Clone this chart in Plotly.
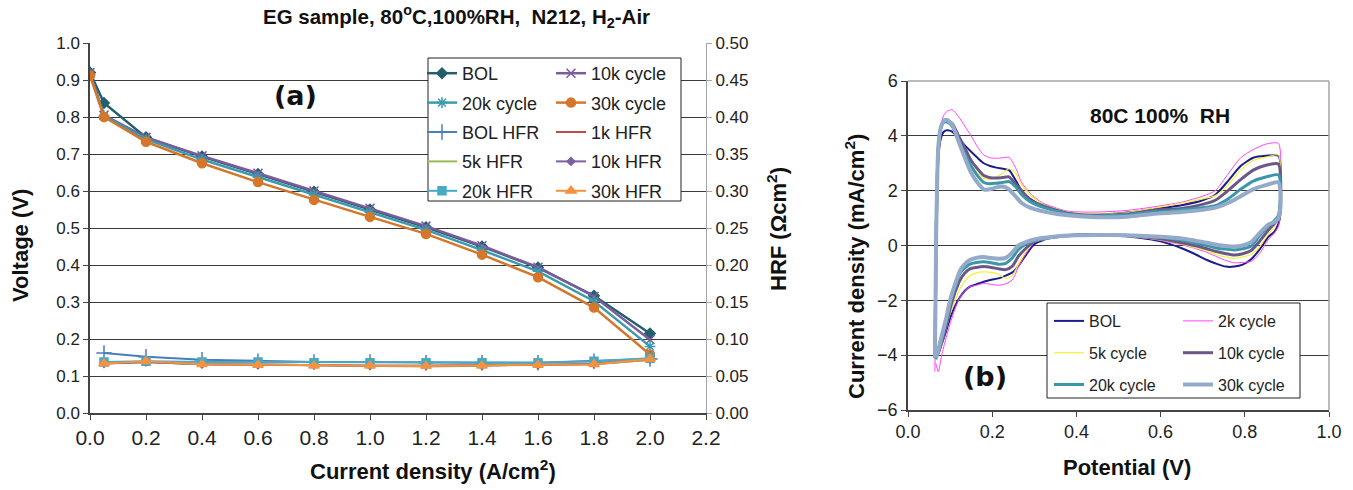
import plotly.graph_objects as go

W, H = 1353, 490
FONT = "Liberation Sans, Arial, sans-serif"

# ---------------- (a) polarization data ----------------
x_pol = [0, 0.05, 0.2, 0.4, 0.6, 0.8, 1.0, 1.2, 1.4, 1.6, 1.8, 2.0]
v_bol = [0.920, 0.838, 0.745, 0.693, 0.646, 0.598, 0.550, 0.502, 0.450, 0.393, 0.317, 0.215]
v_10k = [0.920, 0.805, 0.745, 0.695, 0.648, 0.600, 0.553, 0.505, 0.452, 0.394, 0.315, 0.198]
v_20k = [0.915, 0.803, 0.740, 0.685, 0.638, 0.590, 0.542, 0.495, 0.440, 0.383, 0.302, 0.180]
v_30k = [0.912, 0.800, 0.733, 0.675, 0.624, 0.576, 0.530, 0.484, 0.428, 0.367, 0.285, 0.158]

x_hfr = [0.05, 0.2, 0.4, 0.6, 0.8, 1.0, 1.2, 1.4, 1.6, 1.8, 2.0]
hfr_bol = [0.081, 0.076, 0.072, 0.070, 0.069, 0.069, 0.068, 0.068, 0.068, 0.070, 0.073]
hfr_1k = [0.067, 0.069, 0.066, 0.065, 0.064, 0.064, 0.064, 0.064, 0.065, 0.066, 0.072]
hfr_5k = [0.068, 0.069, 0.066, 0.065, 0.064, 0.064, 0.063, 0.064, 0.065, 0.066, 0.072]
hfr_10k = [0.067, 0.069, 0.066, 0.065, 0.065, 0.064, 0.064, 0.064, 0.065, 0.067, 0.073]
hfr_20k = [0.069, 0.070, 0.069, 0.069, 0.068, 0.068, 0.068, 0.068, 0.068, 0.070, 0.074]
hfr_30k = [0.067, 0.070, 0.066, 0.065, 0.064, 0.064, 0.0635, 0.064, 0.065, 0.066, 0.073]

# ---------------- (b) CV data ----------------
cv_up_v = [0.064, 0.067, 0.072, 0.078, 0.085, 0.093, 0.105, 0.120, 0.135, 0.150, 0.165, 0.180,
           0.195, 0.210, 0.225, 0.240, 0.255, 0.270, 0.290, 0.320, 0.38, 0.45, 0.52, 0.58,
           0.65, 0.70, 0.73, 0.76, 0.79, 0.82, 0.85, 0.88]
cv_dn_v = [0.885, 0.880, 0.870, 0.855, 0.835, 0.815, 0.795, 0.775, 0.755, 0.735, 0.71, 0.68,
           0.65, 0.60, 0.55, 0.48, 0.40, 0.345, 0.30, 0.28, 0.262, 0.248, 0.232, 0.215,
           0.198, 0.180, 0.162, 0.147, 0.135, 0.124, 0.112, 0.100, 0.090, 0.080, 0.072, 0.066]

cv_bol_up = [-4.0, 0.3, 3.2, 3.9, 4.15, 4.2, 4.15, 3.9, 3.65, 3.42, 3.2, 3.0, 2.9, 2.84, 2.8, 2.75,
             2.4, 2.0, 1.7, 1.45, 1.18, 1.12, 1.2, 1.32, 1.47, 1.65, 1.85, 2.35, 2.9, 3.2, 3.27, 3.27]
cv_bol_dn = [1.2, 0.8, 0.5, 0.3, -0.15, -0.5, -0.7, -0.77, -0.77, -0.68, -0.53, -0.3, -0.1, 0.15,
             0.28, 0.38, 0.4, 0.32, 0.05, -0.35, -0.75, -0.98, -1.1, -1.2, -1.25, -1.32, -1.42,
             -1.5, -1.65, -1.87, -2.2, -2.65, -3.15, -3.6, -3.95, -4.05]
cv_2k_up = [-4.6, 0.5, 3.6, 4.4, 4.75, 4.9, 4.95, 4.7, 4.35, 4.0, 3.6, 3.3, 3.2, 3.18, 3.2, 3.22,
            2.85, 2.3, 1.9, 1.55, 1.25, 1.22, 1.28, 1.4, 1.58, 1.8, 2.0, 2.6, 3.2, 3.5, 3.7, 3.72]
cv_2k_dn = [1.5, 0.7, 0.45, 0.2, -0.3, -0.58, -0.62, -0.63, -0.55, -0.42, -0.25, -0.1, 0.03, 0.18,
            0.3, 0.37, 0.38, 0.32, 0.1, -0.3, -0.8, -1.25, -1.4, -1.45, -1.42, -1.38, -1.45,
            -1.5, -1.65, -1.87, -2.3, -2.85, -3.4, -4.0, -4.6, -4.3]
cv_5k_up = [-3.9, 0.5, 3.5, 4.3, 4.52, 4.55, 4.4, 3.9, 3.4, 2.95, 2.65, 2.45, 2.42, 2.5, 2.65, 2.8,
            2.65, 2.2, 1.85, 1.5, 1.22, 1.15, 1.2, 1.35, 1.55, 1.7, 1.82, 2.2, 2.75, 3.1, 3.22, 3.3]
cv_5k_dn = [2.0, 1.0, 0.7, 0.4, -0.05, -0.33, -0.42, -0.47, -0.42, -0.35, -0.2, -0.07, 0.05, 0.2,
            0.3, 0.36, 0.36, 0.28, 0.12, -0.2, -0.7, -1.1, -1.2, -1.05, -0.98, -0.96, -1.0,
            -1.1, -1.3, -1.55, -2.0, -2.5, -3.05, -3.6, -3.95, -4.0]
cv_10k_up = [-4.0, 0.5, 3.5, 4.3, 4.52, 4.55, 4.45, 4.0, 3.55, 3.1, 2.8, 2.55, 2.47, 2.46, 2.48, 2.5,
             2.25, 2.0, 1.65, 1.45, 1.18, 1.1, 1.15, 1.28, 1.35, 1.5, 1.65, 2.0, 2.4, 2.75, 2.93, 2.97]
cv_10k_dn = [2.0, 1.0, 0.8, 0.55, 0.15, -0.18, -0.3, -0.35, -0.3, -0.23, -0.12, 0.0, 0.1, 0.25,
             0.33, 0.37, 0.37, 0.3, 0.15, -0.1, -0.4, -0.75, -0.88, -0.85, -0.8, -0.77, -0.8,
             -0.85, -1.0, -1.25, -1.7, -2.3, -3.0, -3.5, -3.9, -4.1]
cv_20k_up = [-4.1, 0.5, 3.6, 4.3, 4.5, 4.5, 4.35, 3.85, 3.35, 2.9, 2.55, 2.3, 2.25, 2.27, 2.3, 2.33,
             2.15, 1.85, 1.6, 1.4, 1.15, 1.08, 1.12, 1.22, 1.3, 1.38, 1.45, 1.7, 2.05, 2.35, 2.5, 2.57]
cv_20k_dn = [1.8, 1.1, 0.9, 0.7, 0.35, -0.03, -0.12, -0.16, -0.13, -0.1, 0.0, 0.1, 0.2, 0.3,
             0.35, 0.38, 0.37, 0.3, 0.18, 0.05, -0.15, -0.45, -0.65, -0.68, -0.63, -0.59, -0.62,
             -0.68, -0.82, -1.0, -1.5, -2.1, -2.8, -3.4, -3.85, -4.15]
cv_30k_up = [-4.1, 0.5, 3.6, 4.3, 4.55, 4.58, 4.4, 3.8, 3.2, 2.65, 2.3, 2.05, 2.05, 2.12, 2.15, 2.05,
             1.8, 1.55, 1.38, 1.25, 1.1, 1.03, 1.05, 1.15, 1.22, 1.3, 1.38, 1.55, 1.8, 2.05, 2.2, 2.3]
cv_30k_dn = [1.5, 1.0, 0.85, 0.75, 0.45, 0.12, 0.0, -0.04, -0.02, 0.02, 0.1, 0.18, 0.26, 0.32,
             0.36, 0.38, 0.37, 0.32, 0.22, 0.12, 0.0, -0.25, -0.45, -0.48, -0.46, -0.42, -0.45,
             -0.53, -0.68, -0.9, -1.4, -2.0, -2.7, -3.3, -3.8, -4.1]

# ---------------- figure ----------------
fig = go.Figure()

pol_series = [
    ("BOL", v_bol, "#24606B", "diamond", 8, "legend"),
    ("10k cycle", v_10k, "#7B5C9E", "x-thin-open", 9, "legend2"),
    ("20k cycle", v_20k, "#3A9BAE", "asterisk-open", 9, "legend"),
    ("30k cycle", v_30k, "#D5762B", "circle", 9, "legend2"),
]
hfr_series = [
    ("BOL HFR", hfr_bol, "#4A7EBB", "cross-thin-open", 11, "legend"),
    ("1k HFR", hfr_1k, "#BE4B48", None, 0, "legend2"),
    ("5k HFR", hfr_5k, "#98B954", None, 0, "legend"),
    ("10k HFR", hfr_10k, "#7D60A0", "diamond", 6, "legend2"),
    ("20k HFR", hfr_20k, "#46AAC5", "square", 8, "legend"),
    ("30k HFR", hfr_30k, "#F59240", "triangle-up", 9, "legend2"),
]

for name, vals, col, sym, size, lg in pol_series:
    fig.add_trace(go.Scatter(
        x=x_pol, y=vals, name=name, mode="lines+markers", legend=lg, legendgroup=name,
        line=dict(color=col, width=2.5),
        marker=dict(symbol=sym, size=size, color=col, line=dict(color=col, width=1.5)),
        xaxis="x", yaxis="y"))

for name, vals, col, sym, size, lg in hfr_series:
    mode = "lines+markers" if sym else "lines"
    mk = dict(symbol=sym, size=size, color=col, line=dict(color=col, width=1.5)) if sym else None
    fig.add_trace(go.Scatter(
        x=x_hfr, y=vals, name=name, mode=mode, legend=lg, legendgroup=name,
        line=dict(color=col, width=2), marker=mk,
        xaxis="x", yaxis="y2"))

cv_series = [
    ("BOL", cv_bol_up, cv_bol_dn, "#1C1C8A", 2, "legend3"),
    ("2k cycle", cv_2k_up, cv_2k_dn, "#FF44FF", 1, "legend4"),
    ("5k cycle", cv_5k_up, cv_5k_dn, "#F2F23A", 1.2, "legend3"),
    ("10k cycle", cv_10k_up, cv_10k_dn, "#6C5888", 3, "legend4"),
    ("20k cycle", cv_20k_up, cv_20k_dn, "#3A97A8", 3, "legend3"),
    ("30k cycle", cv_30k_up, cv_30k_dn, "#93AACB", 4, "legend4"),
]
for name, up, dn, col, wd, lg in cv_series:
    fig.add_trace(go.Scatter(
        x=cv_up_v + cv_dn_v, y=up + dn, name=name, mode="lines", legend=lg,
        legendgroup="cv_" + name,
        line=dict(color=col, width=wd, shape="spline", smoothing=0.6),
        xaxis="x2", yaxis="y3"))


def px(v):
    return v / W


def py(v):
    return 1 - v / H


grid_col = "#3a3a3a"
tick_a = dict(family=FONT, size=17, color="#222")
tick_ax = dict(family=FONT, size=21, color="#222")
tick_b = dict(family=FONT, size=18, color="#222")

fig.update_layout(
    width=W, height=H,
    margin=dict(l=0, r=0, t=0, b=0, autoexpand=False),
    paper_bgcolor="white", plot_bgcolor="white",
    font=dict(family=FONT, color="#222"),
    xaxis=dict(domain=[px(90), px(706)], range=[0, 2.2], dtick=0.2, tick0=0, tickformat=".1f",
               ticks="outside", ticklen=5, tickcolor="#444", showline=True, linecolor="#444",
               linewidth=1.5, showgrid=False, zeroline=False, anchor="y", automargin=False,
               tickfont=tick_ax),
    yaxis=dict(domain=[py(413), py(43)], range=[0, 1.0], dtick=0.1, tick0=0, tickformat=".1f",
               ticks="outside", ticklen=5, tickcolor="#444", showline=True, linecolor="#444",
               linewidth=1.5, showgrid=True, gridcolor=grid_col, gridwidth=1, zeroline=False,
               anchor="x", automargin=False, tickfont=tick_a),
    yaxis2=dict(overlaying="y", side="right", range=[0, 0.5], dtick=0.05, tick0=0,
                tickformat=".2f", ticks="outside", ticklen=5, tickcolor="#A6A6A6",
                showline=True, linecolor="#A6A6A6", showgrid=False, zeroline=False,
                anchor="x", automargin=False, tickfont=tick_a),
    xaxis2=dict(domain=[px(908), px(1329)], range=[0, 1.0], dtick=0.2, tick0=0, tickformat=".1f",
                ticks="outside", ticklen=5, tickcolor="#444", showline=True, linecolor="#444",
                linewidth=1.5, showgrid=False, zeroline=False, anchor="y3", automargin=False,
                tickfont=tick_b),
    yaxis3=dict(domain=[py(410), py(81)], range=[-6, 6], dtick=2, tick0=-6,
                ticks="outside", ticklen=5, tickcolor="#444", showline=True, linecolor="#444",
                linewidth=1.5, showgrid=True, gridcolor=grid_col, gridwidth=1, zeroline=False,
                anchor="x2", automargin=False, tickfont=tick_b),
    shapes=[
        dict(type="rect", xref="paper", yref="paper", x0=px(428), x1=px(681), y0=py(201), y1=py(58),
             line=dict(color="#222", width=1), fillcolor="white", layer="above"),
        dict(type="rect", xref="paper", yref="paper", x0=px(1047), x1=px(1300), y0=py(398), y1=py(303),
             line=dict(color="#222", width=1), fillcolor="white", layer="above"),
        dict(type="line", xref="paper", yref="paper", x0=px(908), x1=px(1329), y0=py(81), y1=py(81),
             line=dict(color="#A6A6A6", width=1.5)),
        dict(type="line", xref="paper", yref="paper", x0=px(1329), x1=px(1329), y0=py(410), y1=py(81),
             line=dict(color="#A6A6A6", width=1.5)),
    ],
)

title_font = dict(family=FONT, size=22, color="#111")
ann = [
    dict(text="<b>EG sample, 80<sup>o</sup>C,100%RH,  N212, H<sub>2</sub>-Air</b>",
         x=px(456), y=py(17), font=dict(family=FONT, size=20.5, color="#111")),
    dict(text="<b>(a)</b>", x=px(295), y=py(95),
         font=dict(family="DejaVu Sans, sans-serif", size=27, color="#111")),
    dict(text="<b>80C 100%  RH</b>", x=px(1160), y=py(116),
         font=dict(family=FONT, size=21, color="#111")),
    dict(text="<b>(b)</b>", x=px(985), y=py(376),
         font=dict(family="DejaVu Sans, sans-serif", size=27, color="#111")),
    dict(text="<b>Current density (A/cm<sup>2</sup>)</b>", x=px(433), y=py(470),
         font=dict(family=FONT, size=22, color="#111")),
    dict(text="<b>Voltage (V)</b>", x=px(20), y=py(246), textangle=-90, font=title_font),
    dict(text="<b>HRF (\u03a9cm<sup>2</sup>)</b>", x=px(777), y=py(229), textangle=-90,
         font=title_font),
    dict(text="<b>Potential (V)</b>", x=px(1127), y=py(467), font=title_font),
    dict(text="<b>Current density (mA/cm<sup>2</sup>)</b>", x=px(855), y=py(267), textangle=-90,
         font=title_font),
]
for a in ann:
    a.update(xref="paper", yref="paper", showarrow=False, xanchor="center", yanchor="middle")
fig.update_layout(annotations=ann)

leg_common = dict(bgcolor="rgba(0,0,0,0)", borderwidth=0, traceorder="grouped",
                  xanchor="left", yanchor="top", itemwidth=30)
fig.update_layout(
    legend=dict(x=px(422), y=py(55), font=dict(family=FONT, size=18, color="#222"),
                tracegroupgap=3, **leg_common),
    legend2=dict(x=px(551), y=py(55), font=dict(family=FONT, size=18, color="#222"),
                 tracegroupgap=3, **leg_common),
    legend3=dict(x=px(1049), y=py(304), font=dict(family=FONT, size=16, color="#222"),
                 tracegroupgap=8, **leg_common),
    legend4=dict(x=px(1178), y=py(304), font=dict(family=FONT, size=16, color="#222"),
                 tracegroupgap=8, **leg_common),
)

fig.write_html("out.html", config={"displayModeBar": False},
               post_script="document.body.style.margin='0';document.body.style.overflow='hidden';")
